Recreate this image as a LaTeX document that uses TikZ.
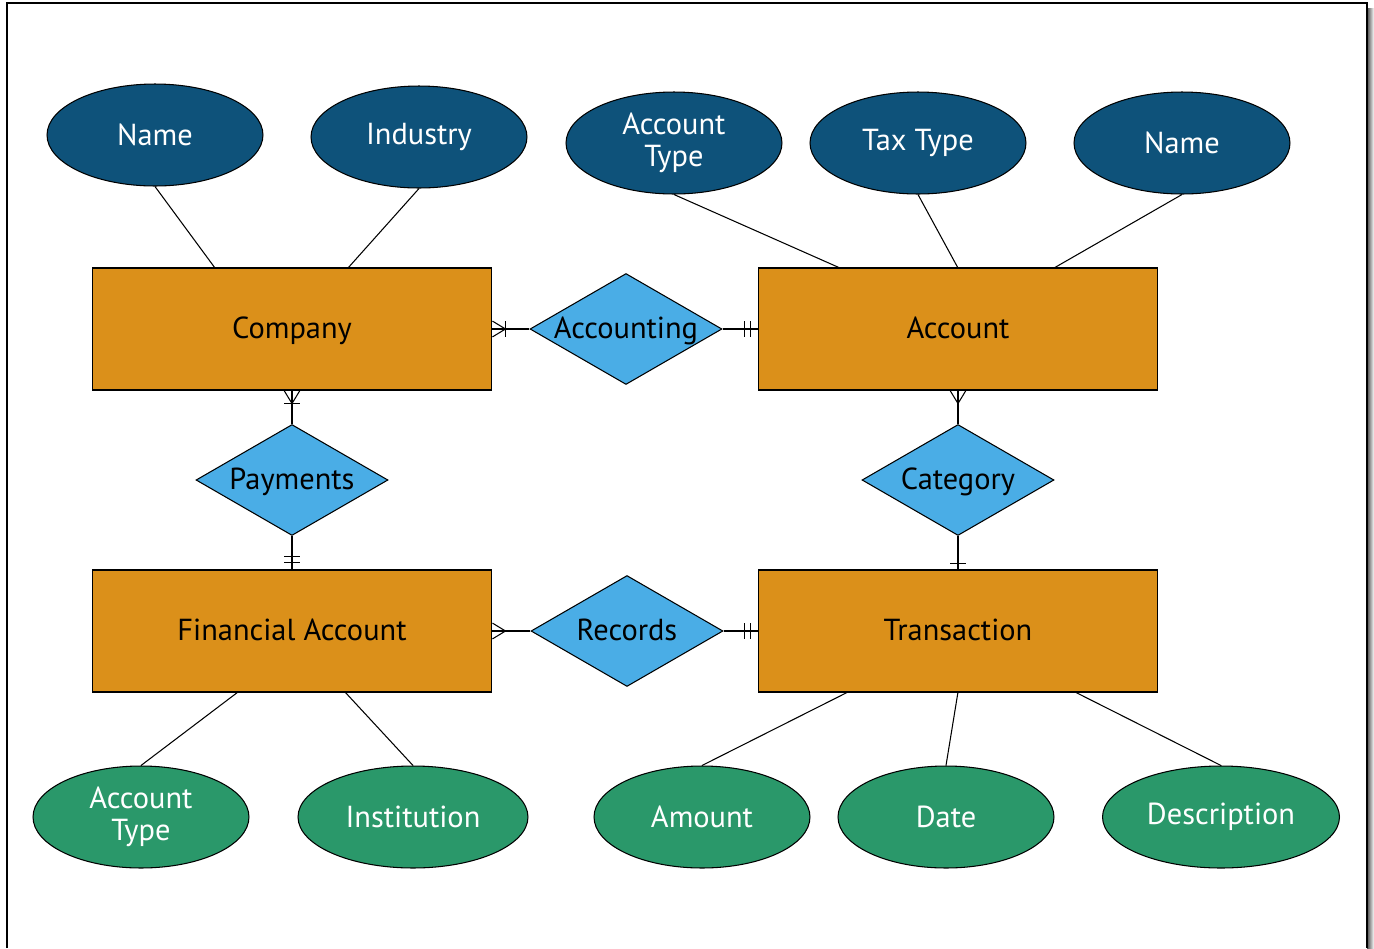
\documentclass[tikz,border=0pt]{standalone}
\usepackage{fontspec}
\setmainfont{PT Sans}
\usetikzlibrary{shapes.geometric}
\usetikzlibrary{decorations.markings}
\definecolor{entorange}{RGB}{219,144,26}
\definecolor{relblue}{RGB}{74,173,230}
\definecolor{attnavy}{RGB}{14,82,122}
\definecolor{attgreen}{RGB}{42,152,106}
\tikzset{
  entity/.style= {draw, fill=entorange, minimum width=8cm, minimum height=2.44cm, inner sep=0,
    text height=1.1em, text depth=0em},
  rel/.style= {draw, diamond, fill=relblue, aspect=1.73, minimum width=3.84cm, minimum height=2.22cm, inner sep=0,
    text height=1.1em, text depth=0em},
  attr/.style= {draw, ellipse, text=white, minimum width=4.32cm, minimum height=2.04cm, inner sep=0, align=center},
  topattr/.style= {attr, fill=attnavy},
  botattr/.style= {attr, fill=attgreen},
  crow/.style= {postaction={decorate, decoration={markings,
      mark=at position -7.4pt with {\draw (0,0) -- (7.4pt,4.5pt) (0,0) -- (7.4pt,-4.5pt);}}}},
  barat/.style= {postaction={decorate, decoration={markings,
      mark=at position -#1 with {\draw (0,-4.5pt) -- (0,4.5pt);}}}},
  crowbar/.style= {crow, barat=7.4pt},
  twobar/.style= {barat=4.2pt, barat=7.2pt},
  onebar/.style= {barat=3.4pt},
}

\begin{document}
\begin{tikzpicture}[x=0.02cm, y=-0.02cm, line width=0.6pt, font=\fontsize{17.3}{18.5}\selectfont]
  \useasboundingbox (0,0) rectangle (1374,948);
  % page frame
  \shade [left color=black!70, right color=white] (1367,8) rectangle (1374,948);
  \draw [line width=0.8pt] (7,948) -- (7,3) -- (1367,3) -- (1367,948);

  % entities
  \node [entity] (company) at (292,329) {Company};
  \node [entity] (account) at (958,329) {Account};
  \node [entity] (finacc) at (292,631) {Financial Account};
  \node [entity] (trans) at (958,631) {Transaction};

  % relationships
  \node [rel] (accounting) at (626,329) {Accounting};
  \node [rel] (payments) at (292,480) {Payments};
  \node [rel] (category) at (958,480) {Category};
  \node [rel] (records) at (627,631) {Records};

  % attributes
  \node [topattr] (coname) at (155,135) {Name};
  \node [topattr] (industry) at (419,137) {Industry};
  \node [topattr] (acctype) at (674,143) {Account\\Type};
  \node [topattr] (taxtype) at (918,143) {Tax Type};
  \node [topattr] (accname) at (1182,143) {Name};
  \node [botattr] (fintype) at (141,817) {Account\\Type};
  \node [botattr, minimum width=4.6cm] (institution) at (413,817) {Institution};
  \node [botattr] (amount) at (702,817) {Amount};
  \node [botattr] (date) at (946,817) {Date};
  \node [botattr, minimum width=4.74cm] (descr) at (1221,817) {Description};

  \coordinate (co1) at (215,268);
  \coordinate (co2) at (348,268);
  \coordinate (ac1) at (840,268);
  \coordinate (ac2) at (958,268);
  \coordinate (ac3) at (1054,268);
  \coordinate (fa1) at (238,692);
  \coordinate (fa2) at (345,692);
  \coordinate (tr1) at (848,692);
  \coordinate (tr2) at (958,692);
  \coordinate (tr3) at (1075,692);

  \draw (coname.south) -- (co1);
  \draw (industry.south) -- (co2);
  \draw (acctype.south) -- (ac1);
  \draw (taxtype.south) -- (ac2);
  \draw (accname.south) -- (ac3);
  \draw (fintype.north) -- (fa1);
  \draw (institution.north) -- (fa2);
  \draw (amount.north) -- (tr1);
  \draw (date.north) -- (tr2);
  \draw (descr.north) -- (tr3);

  % cardinalities
  \draw [crowbar] (accounting) -- (company);
  \draw [twobar] (accounting) -- (account);
  \draw [crowbar] (payments) -- (company);
  \draw [twobar] (payments) -- (finacc);
  \draw [crow] (category) -- (account);
  \draw [onebar] (category) -- (trans);
  \draw [crow] (records) -- (finacc);
  \draw [twobar] (records) -- (trans);
\end{tikzpicture}
\end{document}
